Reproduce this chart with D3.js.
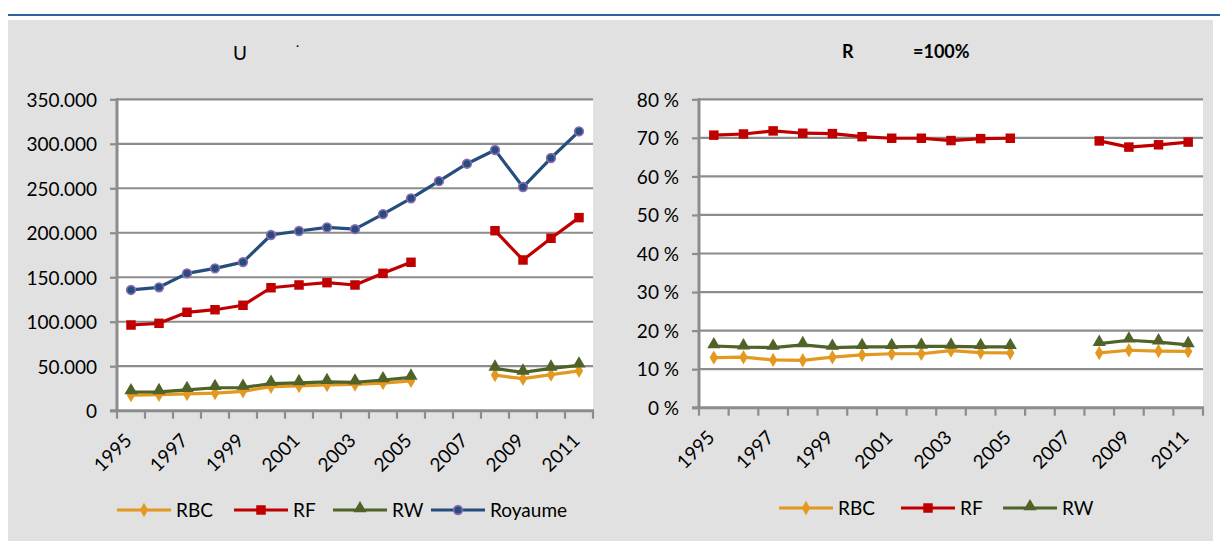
<!DOCTYPE html>
<html>
<head>
<meta charset="utf-8">
<script src="https://cdn.jsdelivr.net/npm/d3@7/dist/d3.min.js"></script>
<style>
  body { margin: 0; background: #fff; }
  text { font-family: Lato, "Open Sans", sans-serif; fill: #000; }
</style>
</head>
<body>
<svg id="canvas" width="1220" height="541"></svg>
<script>
/* global d3 */

// categories
var years = [1995, 1996, 1997, 1998, 1999, 2000, 2001, 2002, 2003, 2004, 2005, 2006, 2007, 2008, 2009, 2010, 2011];
var yearLabels = [1995, 1997, 1999, 2001, 2003, 2005, 2007, 2009, 2011];

// left chart: absolute values
var leftTicks = [0, 50000, 100000, 150000, 200000, 250000, 300000, 350000];
var absRBC = [17500, 18000, 18800, 19800, 21800, 27000, 27800, 28900, 29500, 31000, 33500, null, null, 40000, 36000, 40500, 44800];
var absRF = [96300, 98200, 110600, 113500, 118500, 138200, 141300, 143900, 141300, 154400, 166800, null, null, 202300, 169400, 193800, 217000];
var absRW = [21000, 21200, 23500, 25800, 26000, 30500, 31300, 32500, 32000, 34500, 37500, null, null, 47500, 43000, 47500, 51000];
var absRoyaume = [135700, 138700, 154400, 160000, 167000, 197500, 202000, 206000, 204000, 221000, 238700, 258000, 277600, 293000, 251400, 284000, 314000];

// right chart: shares, Royaume = 100%
var rightTicks = [0, 10, 20, 30, 40, 50, 60, 70, 80];
var pctRBC = [13.0, 13.1, 12.4, 12.3, 13.1, 13.7, 14.0, 14.0, 14.8, 14.3, 14.2, null, null, 14.2, 14.9, 14.7, 14.6];
var pctRF = [70.7, 71.0, 71.8, 71.2, 71.1, 70.3, 69.9, 69.9, 69.3, 69.8, 69.9, null, null, 69.2, 67.6, 68.2, 68.9];
var pctRW = [16.0, 15.7, 15.6, 16.3, 15.6, 15.8, 15.8, 15.9, 15.9, 15.8, 15.8, null, null, 16.6, 17.5, 17.0, 16.3];

var C = {
	RBC: '#e3981f',
	RF: '#c00000',
	RW: '#4f6228',
	ROY: '#254e7e',
	ROY_EDGE: '#8c6bb1',
	GRID: '#8c8c8c',
	BG: '#e1e1e1'
};
var FONT_SIZE = 19;

var svg = d3.select('#canvas');

//* page background: header rule + grey panel
svg.append('rect').attr('x', 8).attr('y', 14).attr('width', 1212).attr('height', 2).attr('fill', '#2e63a0');
svg.append('rect').attr('x', 8).attr('y', 20).attr('width', 1205).attr('height', 521).attr('fill', C.BG);

var dotFormat = d3.formatLocale({ decimal: ',', thousands: '.', grouping: [3], currency: ['', ''] }).format(',');

var markers = {
	diamond: { type: d3.symbolDiamond, size: 60 },
	square: { type: d3.symbolSquare, size: 90 },
	triangle: { type: d3.symbolTriangle, size: 75 },
	circle: { type: d3.symbolCircle, size: 60 }
};

function drawChart(opt) {

	var g = svg.append('g');

	var x = d3.scaleBand().domain(years).range([opt.left, opt.right]);
	var y = d3.scaleLinear().domain([0, opt.max]).range([opt.bottom, opt.top]);
	var cx = function(i) { return x(years[i]) + x.bandwidth() / 2; };

	//* plot area
	g.append('rect')
		.attr('x', opt.left).attr('y', opt.top)
		.attr('width', opt.right - opt.left).attr('height', opt.bottom - opt.top)
		.attr('fill', '#fff');

	//* gridlines
	g.selectAll('.grid').data(opt.ticks.filter(function(t) { return t > 0; }))
		.enter().append('line')
		.attr('x1', opt.left).attr('x2', opt.right)
		.attr('y1', function(d) { return y(d); }).attr('y2', function(d) { return y(d); })
		.attr('stroke', C.GRID).attr('stroke-width', 2.2);

	//* y axis
	var yAxis = g.append('g')
		.attr('transform', 'translate(' + opt.left + ',0)')
		.call(d3.axisLeft(y).tickValues(opt.ticks).tickSize(7).tickPadding(13).tickFormat(opt.format));
	yAxis.select('.domain').remove();
	yAxis.selectAll('.tick line').attr('stroke', C.GRID).attr('stroke-width', 2.2);
	yAxis.selectAll('.tick text').attr('font-size', FONT_SIZE).attr('dy', '0.36em').style('font-family', 'Lato');
	g.append('line')
		.attr('x1', opt.left).attr('x2', opt.left)
		.attr('y1', opt.top - 1).attr('y2', opt.bottom + 1)
		.attr('stroke', C.GRID).attr('stroke-width', 3);

	//* x axis: ticks between categories
	g.append('line')
		.attr('x1', opt.left - 7).attr('x2', opt.right + 1)
		.attr('y1', opt.bottom).attr('y2', opt.bottom)
		.attr('stroke', C.GRID).attr('stroke-width', 3);
	var edges = years.map(function(yr) { return x(yr); }).concat([opt.right]);
	g.selectAll('.xtick').data(edges).enter().append('line')
		.attr('x1', function(d) { return d; }).attr('x2', function(d) { return d; })
		.attr('y1', opt.bottom).attr('y2', opt.bottom + 8)
		.attr('stroke', C.GRID).attr('stroke-width', 2.2);
	g.selectAll('.xlab').data(yearLabels).enter().append('text')
		.attr('transform', function(d) {
			return 'translate(' + (x(d) + x.bandwidth() / 2 + 2) + ',' + (opt.bottom + 31) + ') rotate(-45)';
		})
		.attr('text-anchor', 'end')
		.attr('font-size', FONT_SIZE)
		.text(function(d) { return d; });

	//* series
	var line = d3.line()
		.defined(function(d) { return d != null; })
		.x(function(d, i) { return cx(i); })
		.y(function(d) { return y(d); });

	opt.series.forEach(function(s) {
		g.append('path')
			.datum(s.values)
			.attr('d', line)
			.attr('fill', 'none')
			.attr('stroke', s.color)
			.attr('stroke-width', 3.2)
			.attr('stroke-linejoin', 'round');

		var m = markers[s.marker];
		g.selectAll(null)
			.data(s.values.map(function(v, i) { return { v: v, i: i }; }).filter(function(d) { return d.v != null; }))
			.enter().append('path')
			.attr('d', d3.symbol().type(m.type).size(m.size))
			.attr('transform', function(d) {
				var dy = s.marker === 'triangle' ? -1.5 : 0;
				return 'translate(' + cx(d.i) + ',' + (y(d.v) + dy) + ')';
			})
			.attr('fill', s.fill || s.color)
			.attr('stroke', s.edge || 'none')
			.attr('stroke-width', s.edge ? 1.6 : 0);
	});

	//* title
	opt.title.forEach(function(t) {
		g.append('text')
			.attr('x', t.x).attr('y', t.y)
			.attr('font-size', t.size || 18)
			.attr('font-weight', t.bold ? 'bold' : 'normal')
			.text(t.text);
	});

	//* legend
	var lg = g.selectAll('.legend').data(opt.series).enter().append('g')
		.attr('transform', function(d, i) { return 'translate(' + opt.legendX[i] + ',' + opt.legendY + ')'; });
	lg.append('line')
		.attr('x1', 0).attr('x2', 54)
		.attr('stroke', function(d) { return d.color; })
		.attr('stroke-width', 3.2);
	lg.append('path')
		.attr('d', function(d) { return d3.symbol().type(markers[d.marker].type).size(markers[d.marker].size)(); })
		.attr('transform', function(d) { return 'translate(27,' + (d.marker === 'triangle' ? -1.5 : 0) + ')'; })
		.attr('fill', function(d) { return d.fill || d.color; })
		.attr('stroke', function(d) { return d.edge || 'none'; })
		.attr('stroke-width', function(d) { return d.edge ? 1.6 : 0; });
	lg.append('text')
		.attr('x', 59).attr('y', 0).attr('dy', '0.36em')
		.attr('font-size', FONT_SIZE)
		.text(function(d) { return d.name; });
}

drawChart({
	left: 117, right: 593, top: 99.3, bottom: 410.7,
	max: 350000, ticks: leftTicks, format: dotFormat,
	series: [
		{ name: 'RBC', values: absRBC, color: C.RBC, marker: 'diamond' },
		{ name: 'RF', values: absRF, color: C.RF, marker: 'square' },
		{ name: 'RW', values: absRW, color: C.RW, marker: 'triangle' },
		{ name: 'Royaume', values: absRoyaume, color: C.ROY, marker: 'circle', fill: C.ROY, edge: C.ROY_EDGE }
	],
	title: [
		{ text: 'U', x: 233, y: 60, size: 19 },
		{ text: '\u00b7', x: 296, y: 50, size: 12 }
	],
	legendX: [117, 234, 333, 431],
	legendY: 510
});

drawChart({
	left: 699, right: 1203, top: 99.3, bottom: 407.7,
	max: 80, ticks: rightTicks, format: function(d) { return d + ' %'; },
	series: [
		{ name: 'RBC', values: pctRBC, color: C.RBC, marker: 'diamond' },
		{ name: 'RF', values: pctRF, color: C.RF, marker: 'square' },
		{ name: 'RW', values: pctRW, color: C.RW, marker: 'triangle' }
	],
	title: [
		{ text: 'R', x: 842, y: 58, bold: true },
		{ text: '=100%', x: 913, y: 58, bold: true }
	],
	legendX: [779, 901, 1003],
	legendY: 508
});
</script>
</body>
</html>
